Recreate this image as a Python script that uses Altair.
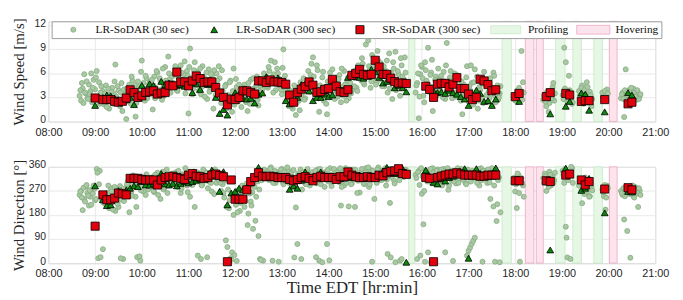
import altair as alt
import pandas as pd

# ---------------- data (time = minutes after 08:00 EDT) ----------------
SERIES = ["LR-SoDAR (30 sec)", "LR-SoDAR (300 sec)", "SR-SoDAR (300 sec)", "Profiling", "Hovering"]
FILLS = ["#a9c8a3", "#0b8a0b", "#e1000c", "#e6f7e6", "#fde4ec"]
STROKES = ["#84ad80", "#000000", "#000000", "#c6eac6", "#eba6c6"]
WIDE = "M-3.2,-0.85H3.2V0.85H-3.2Z"
SHAPES = ["circle", "triangle-up", "square", WIDE, WIDE]
SIZES = [26, 110, 64, 144, 144]

HOUR_TICKS = [0, 60, 120, 180, 240, 300, 360, 420, 480, 540, 600, 660, 720, 780]

# Profiling / hovering intervals
BAND_START = [463, 583, 613, 627, 652, 674, 701, 721]
BAND_END = [471, 595, 624, 636, 664, 685, 712, 731]
BAND_TYPE = ["Profiling", "Profiling", "Hovering", "Hovering", "Profiling", "Profiling", "Profiling", "Hovering"]

# LR-SoDAR 30 sec samples (2-min grid inside each segment; two interleaved sets)
LR30_STEP = 2
LR30_START = [40, 472, 598, 636, 661, 682, 712, 736,
              41, 473, 599, 637, 662, 683, 713, 737]
LR30_WS = [
    [3.2, 2.6, 4.1, 5.9, 3.5, 2.9, 4.6, 3.8, 2.4, 5.2, 4.0, 6.3, 3.1, 2.2, 4.4,
     3.8, 2.1, 4.5, 3.3, 1.6, 2.9, 4.2, 3.5, 7.1, 2.4, 3.9, 1.9, 4.8, 2.7, 3.4,
     0.3, 3.4, 4.6, 2.2, 5.1, 3.8, 0.6, 2.9, 4.3, 3.1, 7.6, 4.8, 2.6, 5.4, 3.7,
     4.9, 3.6, 1.5, 5.6, 4.2, 6.1, 3.3, 5.0, 2.7, 4.6, 6.8, 3.9, 8.1, 5.3, 4.4,
     5.8, 4.3, 6.6, 3.8, 5.2, 7.0, 4.6, 5.9, 3.5, 6.3, 1.0, 9.1, 5.4, 4.1, 7.4,
     6.2, 4.5, 5.6, 3.4, 6.9, 4.9, 5.3, 2.8, 6.5, 4.0, 5.7, 1.6, 4.7, 6.0, 3.6,
     5.4, 2.3, 3.8, 1.4, 4.6, 2.0, 3.2, 5.1, 1.2, 6.6, 3.6, 4.3, 2.5, 3.9, 1.8,
     3.1, 4.6, 2.4, 1.3, 3.9, 5.2, 2.8, 4.1, 3.4, 5.6, 2.0, 4.4, 3.7, 5.0, 4.8,
     5.6, 4.2, 6.3, 7.6, 4.8, 5.9, 3.9, 6.6, 4.5, 5.2, 3.4, 9.0, 5.7, 2.6, 4.1,
     2.2, 3.8, 1.6, 4.5, 0.8, 3.0, 2.6, 4.9, 3.5, 5.4, 2.9, 4.2, 6.3, 3.7, 7.2,
     8.0, 4.6, 3.2, 6.4, 1.2, 4.0, 5.5, 2.6, 3.8, 0.9, 4.9, 6.1, 3.4, 5.2, 2.8,
     4.7, 3.1, 5.8, 2.4, 4.3, 6.3, 3.6, 5.1, 2.9, 4.8, 3.9, 6.0, 5.4, 4.2, 7.0,
     6.4, 5.1, 7.2, 4.6, 9.6, 5.8, 6.9, 4.2, 8.3, 5.5, 6.2, 4.9, 7.6, 5.3, 6.7,
     5.7, 4.4, 6.3, 3.6, 8.5, 5.0, 2.8, 6.6, 8.7, 4.7, 5.9, 3.2, 7.0, 5.3, 8.0],
    [3.6, 4.8, 0.4, 5.9, 6.8, 3.2, 7.4, 5.1, 9.2, 4.4, 6.1, 1.3, 3.8, 5.6, 4.2,
     5.3, 3.9, 4.7, 6.2, 2.8, 9.8, 4.1, 5.5, 3.4, 4.9, 6.0, 3.1, 5.2, 4.4, 2.6,
     0.9, 4.6, 3.3, 6.9, 2.5, 3.9, 4.8, 2.1, 6.5, 3.6, 1.6, 4.3, 5.2, 3.0, 6.2,
     4.6, 2.4, 3.7, 5.4, 2.0, 6.1, 3.2, 4.0, 2.7, 3.5],
    [3.1, 2.6, 3.8, 2.9, 3.4, 8.8, 4.9],
    [2.7, 3.4, 1.9, 3.0, 2.3, 3.8, 4.3, 2.6],
    [3.3, 9.2, 7.4, 2.5, 5.7, 3.6, 2.2],
    [3.8, 2.9, 4.5, 2.2, 3.4, 4.9, 2.7, 3.7, 1.9],
    [3.6, 2.8, 3.3, 4.0],
    [2.9, 3.6, 0.55, 6.5, 3.1, 3.9, 2.6, 3.4, 4.1, 3.0, 2.7, 3.5, 3.2],
    # second interleaved set
    [3.9, 4.8, 2.3, 3.6, 5.0, 2.8, 3.4, 6.0, 4.2, 3.0, 5.5, 2.7, 4.9, 3.6, 2.5,
     2.6, 3.5, 1.8, 4.1, 2.9, 3.7, 2.2, 5.0, 3.1, 4.4, 2.5, 3.6, 1.3, 4.0, 2.8,
     4.1, 2.5, 3.9, 5.6, 3.0, 4.5, 2.3, 5.0, 3.6, 6.2, 3.3, 4.1, 5.7, 2.9, 4.6,
     3.8, 5.2, 4.5, 2.9, 6.3, 3.7, 5.4, 4.0, 6.6, 3.2, 5.1, 4.7, 6.0, 3.6, 5.6,
     4.8, 6.9, 3.9, 5.5, 4.4, 6.1, 5.0, 7.5, 4.2, 5.7, 6.8, 4.5, 3.4, 6.4, 5.2,
     5.0, 3.8, 6.6, 4.3, 5.5, 3.1, 6.1, 4.9, 3.7, 5.9, 4.4, 6.4, 3.3, 5.1, 6.9,
     3.5, 6.4, 2.9, 4.4, 1.6, 3.3, 4.9, 2.4, 3.8, 2.1, 5.3, 3.0, 4.6, 2.7, 3.4,
     4.2, 2.6, 3.5, 4.8, 2.2, 3.6, 5.4, 3.0, 4.5, 2.7, 3.8, 5.2, 4.0, 6.0, 5.4,
     4.4, 6.8, 5.1, 5.5, 3.6, 7.4, 4.9, 6.0, 5.3, 4.0, 6.7, 5.0, 3.8, 3.2, 1.9,
     3.4, 1.9, 2.8, 3.6, 2.3, 4.1, 1.4, 3.2, 4.6, 2.7, 3.9, 5.1, 4.4, 5.8, 4.8,
     5.6, 3.5, 7.0, 2.9, 4.5, 3.2, 6.2, 4.3, 2.2, 5.0, 3.6, 4.7, 6.5, 3.9, 4.4,
     3.7, 5.3, 4.0, 6.6, 3.2, 4.6, 2.6, 5.5, 4.1, 3.5, 5.7, 4.4, 6.4, 3.8, 5.9,
     5.4, 7.9, 4.9, 6.1, 5.6, 10.1, 6.4, 5.0, 7.0, 6.3, 4.6, 8.8, 5.9, 7.3, 4.4,
     6.9, 4.9, 7.6, 5.4, 4.1, 6.0, 7.4, 5.1, 3.9, 6.3, 4.6, 7.9, 5.6, 4.3, 6.1],
    [4.5, 6.0, 3.1, 7.0, 5.4, 2.4, 6.4, 4.6, 3.7, 5.8, 7.7, 4.3, 5.2, 3.2, 6.6,
     4.4, 5.7, 3.0, 4.9, 7.0, 3.8, 5.1, 6.3, 2.9, 4.5, 3.6, 5.8, 4.0, 3.3, 5.0,
     4.1, 2.9, 5.5, 3.6, 4.4, 7.0, 2.8, 4.9, 3.4, 5.6, 2.6, 3.9, 4.7, 2.3, 5.0,
     3.3, 4.9, 2.9, 4.2, 3.6, 5.7, 2.4, 4.5, 3.0, 4.4],
    [2.8, 3.5, 2.4, 4.2, 3.0, 2.7, 3.6],
    [3.2, 2.5, 3.7, 1.2, 3.4, 2.9, 4.8, 3.5],
    [2.8, 4.1, 3.4, 2.6, 3.9, 3.0, 2.4],
    [3.2, 4.2, 2.6, 3.9, 3.0, 4.3, 2.4, 3.3, 2.8],
    [3.0, 3.8, 2.6, 3.5],
    [3.4, 2.8, 3.9, 3.3, 2.5, 3.7, 4.2, 2.9, 3.6, 3.1, 3.9, 2.8, 3.4],
]
LR30_WD = [
    [255, 270, 198, 240, 285, 262, 215, 248, 275, 290, 235, 352, 18, 345, 258,
     52, 240, 218, 262, 205, 280, 228, 250, 195, 272, 210, 288, 238, 15, 265,
     278, 305, 190, 262, 295, 320, 248, 22, 285, 9, 310, 268, 300, 332, 275,
     300, 285, 322, 265, 310, 338, 292, 240, 318, 275, 305, 350, 290, 328, 312,
     325, 298, 340, 285, 315, 262, 332, 305, 355, 290, 318, 248, 338, 300, 210,
     312, 28, 335, 15, 296, 345, 320, 22, 305, 338, 268, 325, 350, 300, 330,
     318, 270, 295, 245, 85, 60, 205, 18, 40, 180, 235, 8, 262, 195, 250,
     245, 210, 275, 142, 290, 230, 265, 300, 158, 320, 101, 15, 310, 9, 335,
     330, 345, 310, 358, 9, 322, 300, 340, 5, 318, 352, 295, 335, 312, 348,
     305, 338, 285, 21, 208, 71, 320, 350, 275, 330, 298, 345, 315, 290, 328,
     335, 310, 22, 350, 9, 295, 3, 325, 340, 71, 305, 355, 288, 318, 345,
     320, 345, 302, 215, 338, 290, 355, 312, 212, 330, 298, 350, 210, 325, 308,
     264, 340, 318, 295, 355, 330, 285, 348, 5, 315, 338, 300, 358, 325, 310,
     345, 320, 290, 34, 352, 21, 335, 310, 3, 358, 328, 9, 15, 340, 330],
    [330, 15, 345, 28, 259, 145, 5, 340, 40, 312, 3, 355, 298, 325, 350,
     338, 305, 290, 352, 40, 322, 274, 345, 310, 8, 330, 298, 355, 318, 340,
     325, 350, 300, 28, 46, 58, 71, 83, 95, 338, 312, 290, 355, 5, 330,
     345, 300, 330, 240, 355, 212, 5, 157, 310, 3],
    [300, 268, 206, 330, 5, 318, 290],
    [318, 335, 270, 305, 342, 290, 325, 310],
    [345, 300, 136, 21, 325, 15, 355],
    [290, 310, 224, 275, 320, 265, 300, 250, 285],
    [275, 250, 200, 290],
    [270, 255, 163, 280, 120, 265, 20, 275, 250, 285, 260, 210, 270],
    # second interleaved set
    [268, 245, 282, 230, 292, 252, 272, 218, 260, 278, 240, 338, 295, 22, 232,
     225, 258, 214, 290, 236, 268, 200, 285, 248, 222, 275, 18, 255, 232, 280,
     295, 268, 315, 252, 328, 285, 210, 300, 25, 272, 318, 292, 255, 310, 288,
     315, 292, 270, 330, 302, 255, 325, 296, 342, 282, 312, 262, 320, 300, 335,
     308, 330, 290, 345, 312, 278, 322, 298, 336, 265, 310, 328, 292, 342, 318,
     340, 305, 322, 290, 350, 315, 338, 280, 326, 300, 345, 258, 320, 336, 310,
     300, 330, 262, 310, 210, 275, 235, 12, 250, 30, 218, 190, 275, 225, 290,
     275, 232, 298, 185, 260, 215, 128, 285, 248, 305, 275, 12, 325, 350, 318,
     340, 318, 352, 325, 300, 345, 312, 335, 328, 350, 305, 340, 318, 358, 300,
     322, 295, 348, 312, 280, 335, 305, 15, 340, 318, 295, 352, 328, 305, 340,
     318, 345, 298, 330, 352, 312, 338, 285, 322, 348, 10, 330, 305, 352, 325,
     338, 310, 355, 285, 328, 345, 300, 322, 350, 295, 335, 315, 348, 262, 330,
     325, 352, 300, 340, 315, 358, 295, 330, 345, 240, 322, 350, 310, 335, 345,
     330, 355, 312, 340, 225, 322, 350, 298, 345, 330, 310, 355, 338, 322, 350],
    [318, 340, 292, 355, 325, 270, 345, 305, 330, 352, 298, 338, 318, 345, 310,
     325, 350, 302, 335, 315, 355, 290, 328, 345, 305, 320, 342, 300, 335, 352,
     312, 338, 295, 350, 322, 305, 345, 318, 332, 300, 352, 325, 310, 345, 335,
     318, 350, 302, 338, 325, 290, 348, 220, 320, 190],
    [320, 295, 335, 262, 310, 300, 248],
    [300, 325, 310, 285, 330, 315, 300, 338],
    [330, 352, 95, 310, 338, 360, 300],
    [305, 270, 295, 258, 312, 282, 248, 300, 272],
    [265, 292, 245, 280],
    [262, 280, 250, 272, 285, 258, 268, 290, 245, 275, 262, 280, 255],
]

# LR-SoDAR 300 sec averages
LR300_T = [60, 70, 75, 80, 85, 90, 95, 100, 105, 110, 115, 120, 125, 130, 135, 140, 145, 150,
           155, 160, 165, 170, 175, 180, 185, 190, 195, 200, 205, 210, 215, 220, 225, 230,
           235, 240, 245, 250, 255, 260, 265, 270, 275, 280, 285, 290, 295, 300, 305, 310,
           315, 320, 325, 330, 335, 340, 345, 350, 355, 360, 365, 370, 375, 380, 385, 390,
           395, 400, 405, 410, 415, 420, 425, 430, 435, 440, 445, 450, 455, 460,
           485, 490, 495, 500, 505, 510, 515, 520, 525, 530, 535, 540, 545, 550, 555, 560,
           565, 570, 575, 605, 645, 665, 670, 685, 690, 695, 715, 745, 750]
LR300_WS = [2.0, 3.0, 3.3, 3.2, 2.9, 2.7, 2.6, 2.7, 3.0, 2.1, 3.1, 4.5, 3.6, 4.7, 4.5, 3.5, 5.0, 4.6,
            4.8, 4.7, 4.5, 4.6, 4.4, 4.5, 3.6, 4.7, 4.0, 4.9, 4.6, 4.9, 3.0, 1.0, 1.5, 0.8,
            2.8, 3.6, 3.4, 2.9, 2.8, 2.9, 2.3, 3.4, 3.55, 5.6, 4.9, 4.9, 5.45, 4.8, 2.6, 2.2,
            2.5, 3.0, 4.6, 4.7, 3.8, 2.6, 3.0, 3.0, 3.4, 3.1, 3.3, 4.3, 4.0, 3.7, 5.5, 6.0,
            5.6, 5.5, 5.4, 5.8, 6.5, 6.2, 5.5, 4.8, 5.0, 5.3, 4.2, 4.5, 4.2, 3.7,
            4.4, 4.1, 3.8, 3.6, 3.7, 3.5, 3.9, 3.6, 3.4, 3.1, 2.8, 2.0, 3.0, 3.9, 3.5, 2.5,
            2.6, 2.0, 2.8, 2.5, 0.95, 1.9, 2.5, 3.55, 3.4, 1.4, 1.2, 3.6, 3.3]
LR300_WD = [289, 237, 215, 218, 249, 271, 265, 274, 280, 289, 286, 305, 292, 292, 298, 295, 335, 296,
            292, 298, 289, 298, 305, 300, 305, 310, 315, 318, 325, 348, 329, 268, 342, 218,
            262, 268, 280, 274, 285, 300, 320, 358, 330, 320, 325, 320, 318, 320, 315, 276,
            289, 280, 310, 341, 320, 315, 320, 341, 320, 318, 325, 320, 315, 318, 322, 320,
            325, 330, 318, 322, 320, 320, 325, 345, 358, 338, 335, 340, 354, 3,
            348, 323, 302, 296, 315, 307, 320, 325, 335, 340, 353, 18, 330, 353, 335, 330,
            325, 330, 356, 312, 49, 355, 335, 272, 280, 317, 188, 268, 266]

# SR-SoDAR 300 sec averages
SR300_T = [60, 70, 75, 80, 85, 90, 95, 100, 105, 110, 115, 120, 125, 130, 135, 140, 145, 150,
           155, 160, 165, 170, 175, 180, 185, 190, 195, 200, 205, 210, 215, 220, 225, 230,
           235, 240, 245, 250, 255, 260, 265, 270, 275, 280, 285, 290, 295, 300, 305, 310,
           315, 320, 325, 330, 335, 340, 345, 350, 355, 360, 365, 370, 375, 380, 385, 390,
           395, 400, 405, 410, 415, 420, 425, 430, 435, 440, 445, 450, 455, 460,
           485, 490, 495, 500, 505, 510, 515, 520, 525, 530, 535, 540, 545, 550, 555, 560,
           565, 570, 575, 600, 605, 640, 645, 665, 670, 685, 690, 695, 715, 745, 750]
SR300_WS = [2.93, 2.73, 2.73, 2.73, 2.52, 2.4, 2.52, 2.93, 3.95, 3.6, 3.0, 3.2, 3.63, 3.7, 3.83, 3.42, 3.55, 3.63,
            4.53, 4.45, 6.16, 4.94, 4.94, 4.45, 5.06, 5.68, 5.35, 4.86, 4.94, 4.94, 4.24, 3.55, 3.0, 2.07,
            2.8, 2.73, 3.0, 3.83, 3.83, 3.63, 3.42, 5.06, 5.06, 4.86, 5.18, 4.94, 4.94, 4.86, 4.65, 3.3,
            2.4, 3.6, 4.04, 4.36, 4.94, 4.53, 3.63, 3.7, 4.0, 4.1, 5.25, 4.41, 3.71, 3.63, 3.96, 5.76,
            6.0, 6.5, 5.88, 5.76, 5.88, 7.64, 6.8, 5.88, 5.88, 5.4, 4.98, 4.78, 4.8, 4.74,
            4.4, 4.0, 3.0, 4.65, 4.77, 4.75, 4.3, 4.65, 5.47, 4.11, 4.11, 3.42, 2.73, 3.01, 5.27, 5.06,
            4.6, 3.83, 3.96, 3.1, 3.5, 3.1, 3.6, 3.5, 3.3, 2.5, 2.6, 2.6, 2.73, 2.2, 2.4]
SR300_WD = [138, 255, 237, 237, 243, 262, 259, 255, 317, 317, 317, 313, 311, 311, 311, 292, 311, 320,
            323, 325, 320, 317, 313, 329, 335, 325, 323, 317, 320, 329, 333, 328, 323, 5,
            311, 239, 239, 239, 274, 305, 320, 338, 325, 323, 325, 323, 320, 320, 320, 313,
            308, 313, 320, 323, 317, 308, 320, 325, 320, 320, 320, 313, 323, 323, 341, 329,
            323, 320, 320, 323, 320, 320, 329, 326, 338, 343, 345, 353, 335, 332,
            320, 317, 5, 320, 325, 329, 333, 333, 338, 333, 329, 329, 329, 329, 325, 325,
            329, 329, 329, 308, 308, 308, 305, 329, 333, 311, 292, 305, 277, 282, 274]

# ---------------- tables ----------------
rows = []
for start, ws_seg, wd_seg in zip(LR30_START, LR30_WS, LR30_WD):
    for i, (a, b) in enumerate(zip(ws_seg, wd_seg)):
        rows.append((start + LR30_STEP * i, a, b, SERIES[0]))
for t, a, b in zip(LR300_T, LR300_WS, LR300_WD):
    rows.append((t, a, b, SERIES[1]))
for t, a, b in zip(SR300_T, SR300_WS, SR300_WD):
    rows.append((t, a, b, SERIES[2]))
pts = pd.DataFrame(rows, columns=["t", "ws", "wd", "series"])
pts["order_idx"] = range(len(pts))
bands = pd.DataFrame({"t0": BAND_START, "t1": BAND_END, "series": BAND_TYPE})

# ---------------- styling helpers ----------------
W = 615
H_TOP = 101.5
H_BOT = 97.5
LABEL_EXPR = "(datum.value/60 + 8 < 10 ? '0' : '') + (datum.value/60 + 8) + ':00'"
TXT = "#262626"
GRID = "#e3e3e3"


def x_axis(title):
    kw = dict(values=HOUR_TICKS, labelExpr=LABEL_EXPR, grid=True, gridColor=GRID, gridWidth=0.8,
              ticks=False, domain=False, labelFont="Liberation Sans", labelFontSize=11,
              labelPadding=5, labelColor=TXT, labelFlush=False)
    if title:
        kw.update(title=title, titleFont="Liberation Serif", titleFontSize=17,
                  titleFontWeight="normal", titleColor=TXT, titlePadding=1)
    else:
        kw.update(title=None)
    return alt.Axis(**kw)


def y_axis(title, values):
    return alt.Axis(values=values, title=title, grid=True, gridColor=GRID, gridWidth=0.8,
                    ticks=False, domain=False, labelFont="Liberation Sans", labelFontSize=10.5,
                    labelPadding=3, labelOffset=-2, labelColor=TXT, titleFont="Liberation Serif",
                    titleFontSize=15, titleFontWeight="normal", titleColor=TXT, titleAngle=270,
                    titleBaseline="alphabetic", titleX=-24.8, titleAlign="center")


LEG = alt.Legend(title=None, orient="none", legendX=3.2, legendY=0, direction="horizontal",
                 columns=5, fillColor="white", strokeColor="#9b9b9b", padding=3, clipHeight=11,
                 labelFont="Liberation Serif", labelFontSize=11.5, labelColor="#111111",
                 symbolOffset=13, labelOffset=16.5, columnPadding=5.75, symbolStrokeWidth=0.8,
                 labelLimit=300, symbolOpacity=1)


def encs(show_legend):
    leg = LEG if show_legend else None
    return dict(
        fill=alt.Fill("series:N", scale=alt.Scale(domain=SERIES, range=FILLS), legend=leg),
        stroke=alt.Stroke("series:N", scale=alt.Scale(domain=SERIES, range=STROKES), legend=leg),
    )


def panel(field, ydomain, yvals, ytitle, xtitle, height, show_legend):
    xs = alt.Scale(domain=[0, 780], nice=False, zero=False)
    ys = alt.Scale(domain=ydomain, nice=False, zero=False)
    leg = LEG if show_legend else None
    band_layer = alt.Chart(bands).mark_rect(strokeWidth=0.8, opacity=1).encode(
        x=alt.X("t0:Q", scale=xs, axis=x_axis(xtitle)),
        x2="t1:Q",
        y=alt.value(0),
        y2=alt.value("height"),
        **encs(show_legend),
    )
    point_layer = alt.Chart(pts).mark_point(strokeWidth=0.8, opacity=1).encode(
        x=alt.X("t:Q", scale=xs, axis=x_axis(xtitle)),
        y=alt.Y(f"{field}:Q", scale=ys, axis=y_axis(ytitle, yvals)),
        shape=alt.Shape("series:N", scale=alt.Scale(domain=SERIES, range=SHAPES), legend=leg),
        size=alt.Size("series:N", scale=alt.Scale(domain=SERIES, range=SIZES), legend=leg),
        order=alt.Order("order_idx:Q"),
        **encs(show_legend),
    )
    return alt.layer(band_layer, point_layer).properties(width=W, height=height)


top = panel("ws", [0, 12.5], [0, 3, 6, 9, 12], "Wind Speed [m/s]", None, H_TOP, True)
bottom = panel("wd", [0, 360], [0, 90, 180, 270, 360], "Wind Direction [°]", "Time EDT [hr:min]", H_BOT, False)

chart = alt.vconcat(top, bottom, spacing=45.5, bounds="flush").resolve_scale(
    fill="independent", stroke="independent", shape="independent", size="independent"
).resolve_legend(
    fill="independent", stroke="independent", shape="independent", size="independent"
).properties(
    padding={"left": 3, "top": 6.5, "right": 5, "bottom": 5}
).configure_view(
    stroke="#8a8a8a", strokeWidth=1.4
).configure(background="white")

chart.save("out.html", embed_options={"renderer": "svg", "actions": False})
